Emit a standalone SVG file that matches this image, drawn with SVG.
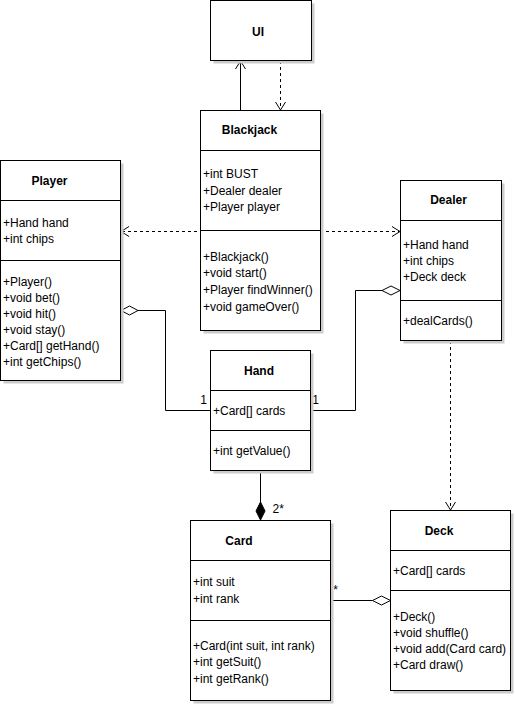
<svg xmlns="http://www.w3.org/2000/svg" width="515" height="705" viewBox="0 0 515 705">
  <defs>
    <style>
      .box { fill: #ffffff; stroke: #000000; stroke-width: 1; }
      .shadow { fill: #cccccc; stroke: none; }
      .div { stroke: #000000; stroke-width: 1; }
      .title { font-family: "Liberation Sans", Arial, sans-serif; font-size: 12px; font-weight: bold; fill: #000000; text-anchor: middle; }
      .item { font-family: "Liberation Sans", Arial, sans-serif; font-size: 12px; fill: #000000; }
      .mult { font-family: "Liberation Sans", Arial, sans-serif; font-size: 12px; fill: #000000; }
      .edge { fill: none; stroke: #000000; stroke-width: 1; }
      .dash { stroke-dasharray: 3 3; }
      .head { fill: none; stroke: #000000; stroke-width: 1; }
      .agg { fill: #ffffff; stroke: #000000; stroke-width: 1; }
      .comp { fill: #000000; stroke: #000000; stroke-width: 1; }
    </style>
  </defs>
  <rect x="0" y="0" width="515" height="705" fill="#ffffff"/>

  <!-- connectors -->
  <g id="connectors">
    <!-- Blackjack -> UI (association) -->
    <line class="edge" x1="240.5" y1="110" x2="240.5" y2="61"/>
    <polyline class="head" points="235.5,69 240.5,61 245.5,69"/>
    <!-- UI -> Blackjack (dependency) -->
    <line class="edge dash" x1="280.5" y1="61" x2="280.5" y2="109"/>
    <polyline class="head" points="275.5,102 280.5,110 285.5,102"/>
    <!-- Player <-> Dealer (dependency, both ways) -->
    <line class="edge dash" x1="122" y1="231.5" x2="399" y2="231.5"/>
    <polyline class="head" points="129,226.5 121,231.5 129,236.5"/>
    <polyline class="head" points="392,226.5 400,231.5 392,236.5"/>
    <!-- Dealer -> Deck (dependency) -->
    <line class="edge dash" x1="450.5" y1="341" x2="450.5" y2="509"/>
    <polyline class="head" points="445.5,502 450.5,510 455.5,502"/>
    <!-- Player <>- Hand -->
    <polyline class="edge" points="138,310.5 165.5,310.5 165.5,410.5 210,410.5"/>
    <polygon class="agg" points="121,310.5 129.5,306 138,310.5 129.5,315"/>
    <!-- Dealer <>- Hand -->
    <polyline class="edge" points="311,410.5 355.5,410.5 355.5,290.5 382,290.5"/>
    <polygon class="agg" points="382,290.5 391,286 400,290.5 391,295"/>
    <!-- Hand <#>- Card (composition) -->
    <line class="edge" x1="260.5" y1="471" x2="260.5" y2="502"/>
    <polygon class="comp" points="260.5,502 265,511 260.5,520 256,511"/>
    <!-- Deck <>- Card -->
    <line class="edge" x1="331" y1="600.5" x2="372.5" y2="600.5"/>
    <polygon class="agg" points="372.5,600.5 381.5,596 390.5,600.5 381.5,605"/>
    <!-- multiplicities -->
    <text class="mult" x="203.5" y="403.5" text-anchor="middle">1</text>
    <text class="mult" x="315.5" y="404" text-anchor="middle">1</text>
    <text class="mult" x="272.5" y="513">2*</text>
    <text class="mult" x="335.5" y="594" text-anchor="middle">*</text>
  </g>

  <!-- UI -->
  <g id="ui">
    <rect class="shadow" x="213.5" y="3.5" width="101" height="60"/>
    <rect class="box" x="210.5" y="0.5" width="101" height="60"/>
    <text class="title" x="258" y="36">UI</text>
  </g>

  <!-- Blackjack -->
  <g id="blackjack">
    <rect class="shadow" x="203.5" y="113.5" width="120" height="220"/>
    <rect class="box" x="200.5" y="110.5" width="120" height="220"/>
    <line class="div" x1="200.5" y1="150.5" x2="320.5" y2="150.5"/>
    <line class="div" x1="200.5" y1="230.5" x2="320.5" y2="230.5"/>
    <text class="title" x="249.5" y="134">Blackjack</text>
    <text class="item" x="203" y="178">+int BUST</text>
    <text class="item" x="203" y="194.5">+Dealer dealer</text>
    <text class="item" x="203" y="210.5">+Player player</text>
    <text class="item" x="203" y="260.5">+Blackjack()</text>
    <text class="item" x="203" y="277">+void start()</text>
    <text class="item" x="203" y="294">+Player findWinner()</text>
    <text class="item" x="203" y="310.5">+void gameOver()</text>
  </g>

  <!-- Player -->
  <g id="player">
    <rect class="shadow" x="3.5" y="163.5" width="120" height="220"/>
    <rect class="box" x="0.5" y="160.5" width="120" height="220"/>
    <line class="div" x1="0.5" y1="200.5" x2="120.5" y2="200.5"/>
    <line class="div" x1="0.5" y1="260.5" x2="120.5" y2="260.5"/>
    <text class="title" x="49.5" y="185">Player</text>
    <text class="item" x="3" y="226.5">+Hand hand</text>
    <text class="item" x="3" y="242.5">+int chips</text>
    <text class="item" x="3" y="285.5">+Player()</text>
    <text class="item" x="3" y="301.5">+void bet()</text>
    <text class="item" x="3" y="317.5">+void hit()</text>
    <text class="item" x="3" y="333.5">+void stay()</text>
    <text class="item" x="3" y="349.5">+Card[] getHand()</text>
    <text class="item" x="3" y="365.5">+int getChips()</text>
  </g>

  <!-- Dealer -->
  <g id="dealer">
    <rect class="shadow" x="403.5" y="183.5" width="101" height="160"/>
    <rect class="box" x="400.5" y="180.5" width="101" height="160"/>
    <line class="div" x1="400.5" y1="220.5" x2="501.5" y2="220.5"/>
    <line class="div" x1="400.5" y1="300.5" x2="501.5" y2="300.5"/>
    <text class="title" x="448.5" y="204">Dealer</text>
    <text class="item" x="403" y="249">+Hand hand</text>
    <text class="item" x="403" y="265">+int chips</text>
    <text class="item" x="403" y="281">+Deck deck</text>
    <text class="item" x="403" y="325">+dealCards()</text>
  </g>

  <!-- Hand -->
  <g id="hand">
    <rect class="shadow" x="213.5" y="353.5" width="100" height="120"/>
    <rect class="box" x="210.5" y="350.5" width="100" height="120"/>
    <line class="div" x1="210.5" y1="390.5" x2="310.5" y2="390.5"/>
    <line class="div" x1="210.5" y1="430.5" x2="310.5" y2="430.5"/>
    <text class="title" x="259" y="375">Hand</text>
    <text class="item" x="213" y="415">+Card[] cards</text>
    <text class="item" x="213" y="455">+int getValue()</text>
  </g>

  <!-- Card -->
  <g id="card">
    <rect class="shadow" x="193.5" y="523.5" width="140" height="180"/>
    <rect class="box" x="190.5" y="520.5" width="140" height="180"/>
    <line class="div" x1="190.5" y1="560.5" x2="330.5" y2="560.5"/>
    <line class="div" x1="190.5" y1="620.5" x2="330.5" y2="620.5"/>
    <text class="title" x="239" y="545">Card</text>
    <text class="item" x="193" y="586">+int suit</text>
    <text class="item" x="193" y="603">+int rank</text>
    <text class="item" x="193" y="650">+Card(int suit, int rank)</text>
    <text class="item" x="193" y="666">+int getSuit()</text>
    <text class="item" x="193" y="683">+int getRank()</text>
  </g>

  <!-- Deck -->
  <g id="deck">
    <rect class="shadow" x="393.5" y="513.5" width="120" height="180"/>
    <rect class="box" x="390.5" y="510.5" width="120" height="180"/>
    <line class="div" x1="390.5" y1="550.5" x2="510.5" y2="550.5"/>
    <line class="div" x1="390.5" y1="590.5" x2="510.5" y2="590.5"/>
    <text class="title" x="439" y="535">Deck</text>
    <text class="item" x="393" y="575">+Card[] cards</text>
    <text class="item" x="393" y="621">+Deck()</text>
    <text class="item" x="393" y="637">+void shuffle()</text>
    <text class="item" x="393" y="653">+void add(Card card)</text>
    <text class="item" x="393" y="669">+Card draw()</text>
  </g>
</svg>
